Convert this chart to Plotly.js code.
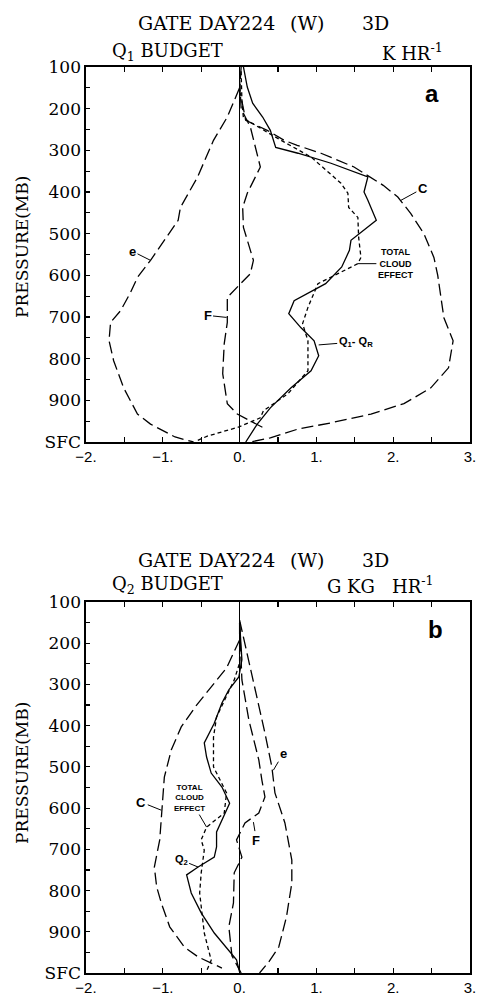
<!DOCTYPE html>
<html>
<head>
<meta charset="utf-8">
<script src="https://cdn.plot.ly/plotly-3.0.1.min.js"></script>
<style>
html,body{margin:0;padding:0;background:#fff;}
#chart{width:478px;height:1002px;}
</style>
</head>
<body>
<div id="chart"></div>
<script>
// ---------- Panel a : Q1 budget (K/hr) ----------
const q1SolidP = [100,148,187,220,252,293,307,331,364,400,420,468,516,540,580,620,661,692,726,757,793,829,870,918,957,1000];
const q1SolidV = [0.05,0.10,0.17,0.30,0.40,0.47,0.76,1.19,1.67,1.62,1.67,1.78,1.45,1.43,1.33,1.12,0.71,0.64,0.80,0.97,1.03,0.93,0.67,0.40,0.23,0.08];

const q1CloudP = [110,180,223,252,276,316,379,403,437,461,509,557,572,596,620,677,716,757,805,829,884,925,942,964,986,998];
const q1CloudV = [0.02,0.03,0.05,0.31,0.54,0.93,1.32,1.41,1.42,1.54,1.55,1.58,1.54,1.28,1.02,0.89,0.82,0.89,0.89,0.89,0.63,0.31,0.27,-0.01,-0.42,-0.57];

const q1CP = [100,155,228,252,276,288,307,340,384,412,452,500,557,600,702,757,822,870,908,933,954,969,990,1000];
const q1CV = [0.02,0.0,0.08,0.36,0.58,0.75,1.06,1.49,1.87,2.06,2.23,2.40,2.53,2.58,2.66,2.78,2.72,2.49,2.14,1.71,1.19,0.76,0.40,0.14];

const q1FP = [130,200,244,300,340,403,437,485,564,596,629,653,713,764,836,908,933,957,965];
const q1FV = [0.0,0.02,0.14,0.22,0.27,0.10,0.04,0.05,0.18,0.14,-0.03,-0.16,-0.16,-0.20,-0.22,-0.16,-0.03,0.23,0.30];

const q1EP = [150,220,276,365,437,468,564,605,641,685,713,757,805,870,933,957,988,1000];
const q1EV = [0.0,-0.16,-0.34,-0.55,-0.77,-0.80,-1.16,-1.33,-1.42,-1.55,-1.68,-1.70,-1.64,-1.51,-1.33,-1.16,-0.84,-0.60];

// ---------- Panel b : Q2 budget (g/kg/hr) ----------
const q2SolidP = [150,240,282,313,345,394,442,476,515,549,588,629,658,694,719,743,762,806,854,903,944,968,998];
const q2SolidV = [0.0,0.03,-0.01,-0.14,-0.23,-0.33,-0.46,-0.43,-0.37,-0.23,-0.13,-0.23,-0.30,-0.30,-0.33,-0.54,-0.69,-0.63,-0.50,-0.33,-0.14,-0.04,0.0];

const q2CloudP = [200,248,289,338,379,428,500,563,612,646,677,702,757,806,903,969,995];
const q2CloudV = [0.0,0.0,-0.07,-0.20,-0.30,-0.34,-0.34,-0.17,-0.20,-0.43,-0.50,-0.46,-0.50,-0.52,-0.46,-0.37,-0.43];

const q2CP = [150,192,260,313,350,403,459,525,622,677,743,791,830,888,937,961,988];
const q2CV = [0.0,0.0,-0.17,-0.40,-0.56,-0.76,-0.89,-0.98,-1.02,-1.04,-1.11,-1.08,-1.02,-0.91,-0.72,-0.54,-0.23];

const q2EP = [144,241,313,418,500,563,636,726,782,864,937,973,1000];
const q2EV = [0.0,0.12,0.20,0.33,0.42,0.46,0.59,0.68,0.68,0.61,0.51,0.38,0.26];

const q2FP = [150,289,386,483,532,573,612,636,677,719,757,830,888,958,1000];
const q2FV = [0.0,0.03,0.12,0.25,0.29,0.33,0.25,0.07,-0.04,0.03,-0.07,-0.08,-0.14,-0.10,0.02];

// ---------- Axis ticks ----------
const xTickVals = [-2,-1.5,-1,-0.5,0,0.5,1,1.5,2,2.5,3];
const xTickText = ['\u22122.','','\u22121.','','0.','','1.','','2.','','3.'];
const yTickVals = [100,150,200,250,300,350,400,450,500,550,600,650,700,750,800,850,900,950,1000];
const yTickText = ['100','','200','','300','','400','','500','','600','','700','','800','','900','','SFC'];

const LONG = '12px,5px';
const SHORT = '4px,3px';
function tr(x, y, dash, xa, ya, w) {
  return {type:'scatter', mode:'lines', x:x, y:y, xaxis:xa, yaxis:ya, hoverinfo:'skip',
          line:{color:'#000', width:w||1.3, dash:dash}};
}

const data = [
  tr(q1SolidV, q1SolidP, 'solid', 'x', 'y', 1.3),
  tr(q1CloudV, q1CloudP, SHORT, 'x', 'y'),
  tr(q1CV, q1CP, LONG, 'x', 'y'),
  tr(q1FV, q1FP, LONG, 'x', 'y'),
  tr(q1EV, q1EP, LONG, 'x', 'y'),
  tr(q2SolidV, q2SolidP, 'solid', 'x2', 'y2', 1.3),
  tr(q2CloudV, q2CloudP, SHORT, 'x2', 'y2'),
  tr(q2CV, q2CP, LONG, 'x2', 'y2'),
  tr(q2EV, q2EP, LONG, 'x2', 'y2'),
  tr(q2FV, q2FP, LONG, 'x2', 'y2')
];

const serif = 'DejaVu Serif, Liberation Serif, serif';
const sans = 'Liberation Sans, Arial, sans-serif';

function xax(anchor) {
  return {
    anchor: anchor, range:[-2,3], tickmode:'array', tickvals:xTickVals, ticktext:xTickText,
    ticks:'inside', ticklen:5, tickwidth:1.2, tickcolor:'#000',
    showline:true, linecolor:'#000', linewidth:2, mirror:'ticks',
    showgrid:false, zeroline:true, zerolinecolor:'#000', zerolinewidth:1.2,
    tickfont:{family:sans, size:15, color:'#000'}, fixedrange:true
  };
}
function yax(anchor, domain) {
  return {
    anchor: anchor, domain: domain, range:[1000,100], tickmode:'array', tickvals:yTickVals, ticktext:yTickText,
    ticks:'inside', ticklen:4, tickwidth:1.2, tickcolor:'#000',
    showline:true, linecolor:'#000', linewidth:1.6, mirror:true,
    showgrid:false, zeroline:false,
    tickfont:{family:serif, size:17, color:'#000'}, fixedrange:true
  };
}

function lab(text, xr, yr, x, y, size, fam, opts) {
  return Object.assign({text:text, xref:xr, yref:yr, x:x, y:y, showarrow:false,
    xanchor:'center', yanchor:'middle',
    font:{family:fam||sans, size:size, color:'#000'}}, opts||{});
}
function lead(text, xr, yr, x, y, ax, ay, size, opts) {
  return Object.assign({text:text, xref:xr, yref:yr, x:x, y:y, ax:ax, ay:ay, showarrow:true,
    xanchor:'center', yanchor:'middle',
    arrowhead:0, arrowwidth:1, arrowcolor:'#000', standoff:0,
    font:{family:sans, size:size, color:'#000'}}, opts||{});
}

const annotations = [
  // titles panel a
  lab('GATE DAY224', 'paper','paper', 0.3125, 1.0486, 19, serif),
  lab('(W)', 'paper','paper', 0.5755, 1.0486, 19, serif),
  lab('3D', 'paper','paper', 0.755, 1.0486, 19, serif),
  lab('Q<sub>1</sub> BUDGET', 'paper','paper', 0.0625, 1.0166, 18, serif, {xanchor:'left'}),
  lab('K HR<sup>-1</sup>', 'paper','paper', 0.7656, 1.0166, 18, serif, {xanchor:'left'}),
  lab('PRESSURE(MB)', 'paper','paper', -0.1667, 0.8013, 17, serif, {textangle:-90}),
  lab('<b>a</b>', 'paper','paper', 0.901, 0.971, 24, sans),
  // titles panel b
  lab('GATE DAY224', 'paper','paper', 0.3125, 0.4558, 19, serif),
  lab('(W)', 'paper','paper', 0.5755, 0.4558, 19, serif),
  lab('3D', 'paper','paper', 0.755, 0.4558, 19, serif),
  lab('Q<sub>2</sub> BUDGET', 'paper','paper', 0.0625, 0.4283, 18, serif, {xanchor:'left'}),
  lab('G KG\u00a0\u00a0\u00a0HR<sup>-1</sup>', 'paper','paper', 0.6224, 0.4283, 18, serif, {xanchor:'left'}),
  lab('PRESSURE(MB)', 'paper','paper', -0.1667, 0.2208, 17, serif, {textangle:-90}),
  lab('<b>b</b>', 'paper','paper', 0.909, 0.3786, 24, sans),
  // curve labels panel a
  lead('<b>C</b>', 'x','y', 2.10, 420, 22, -12, 13),
  lead('<b>TOTAL<br>CLOUD<br>EFFECT</b>', 'x','y', 1.54, 572, 38, 0, 9),
  lead('<b>Q<sub>1</sub>- Q<sub>R</sub></b>', 'x','y', 1.03, 767, 37, -3, 11),
  lead('<b>F</b>', 'x','y', -0.17, 701, -19, -2, 13),
  lead('<b>e</b>', 'x','y', -1.16, 564, -18, -9, 13),
  // curve labels panel b
  lead('<b>C</b>', 'x2','y2', -1.02, 605, -20, -8, 13),
  lead('<b>TOTAL<br>CLOUD<br>EFFECT</b>', 'x2','y2', -0.43, 646, -17, -29, 8),
  lead('<b>Q<sub>2</sub></b>', 'x2','y2', -0.54, 743, -17, -7, 11),
  lead('<b>e</b>', 'x2','y2', 0.44, 508, 10, -17, 13),
  lead('<b>F</b>', 'x2','y2', 0.18, 634, 3, 18, 13)
];

const layout = {
  width:478, height:1002,
  margin:{l:86, r:8, t:67, b:29, pad:0},
  paper_bgcolor:'#fff', plot_bgcolor:'#fff',
  showlegend:false,
  xaxis: xax('y'),
  yaxis: yax('x', [0.5861, 1]),
  xaxis2: xax('y2'),
  yaxis2: yax('x2', [0, 0.4095]),
  annotations: annotations
};

Plotly.newPlot('chart', data, layout, {staticPlot:true, displayModeBar:false});
</script>
</body>
</html>
